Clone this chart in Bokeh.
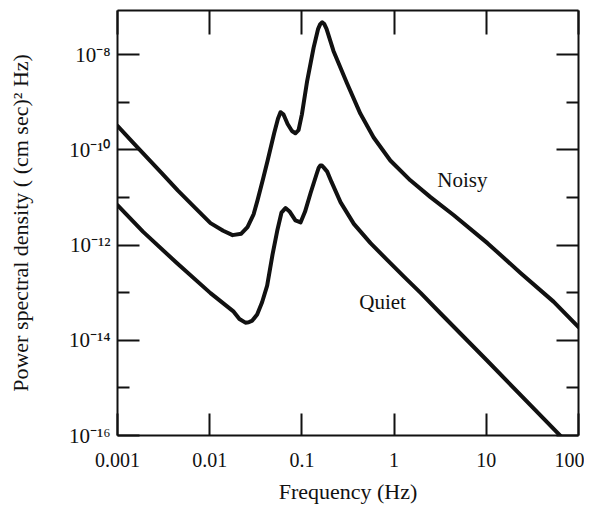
from bokeh.plotting import figure
from bokeh.models import FixedTicker, LogAxis, CustomJSTickFormatter, Range1d, ColumnDataSource
from bokeh.core.properties import value
from bokeh.embed import file_html
from bokeh.resources import INLINE

# ---- data ----
freq_noisy = [0.001, 0.0015, 0.002, 0.003, 0.0045, 0.007, 0.0102, 0.014, 0.0177, 0.022,
              0.0257, 0.03, 0.033, 0.038, 0.0425, 0.05, 0.055, 0.0586, 0.063, 0.07,
              0.078, 0.085, 0.092, 0.1, 0.114, 0.134, 0.15, 0.158, 0.166, 0.175,
              0.185, 0.22, 0.31, 0.43, 0.6, 0.91, 1.5, 2.48, 4.41, 10.3,
              23.5, 53.6, 100]
psd_noisy = [3.2e-10, 1.38e-10, 7.6e-11, 3.3e-11, 1.41e-11, 6.0e-12, 2.9e-12, 2.0e-12, 1.62e-12, 1.74e-12,
             2.4e-12, 4.5e-12, 8.7e-12, 2.5e-11, 6.0e-11, 2.24e-10, 4.5e-10, 6.2e-10, 5.6e-10, 3.5e-10,
             2.5e-10, 2.24e-10, 2.6e-10, 5.6e-10, 2.8e-9, 1.41e-8, 3.5e-8, 4.4e-8, 4.8e-8, 4.4e-8,
             3.5e-8, 1.2e-8, 2.45e-9, 5.8e-10, 1.82e-10, 6.0e-11, 2.3e-11, 1.02e-11, 4.3e-12, 1.1e-12,
             2.6e-13, 6.5e-14, 1.9e-14]

freq_quiet = [0.001, 0.0019, 0.0044, 0.0102, 0.0182, 0.021, 0.0244, 0.0265, 0.029, 0.0327,
              0.037, 0.042, 0.048, 0.054, 0.06, 0.0664, 0.074, 0.085, 0.0967, 0.108,
              0.124, 0.145, 0.152, 0.158, 0.165, 0.172, 0.188, 0.21, 0.263, 0.366,
              0.555, 0.84, 1.27, 1.95, 3.18, 10, 63.8, 100]
psd_quiet = [6.9e-12, 1.9e-12, 4.2e-13, 9.8e-14, 4.0e-14, 2.8e-14, 2.35e-14, 2.4e-14, 2.6e-14, 3.5e-14,
             6.3e-14, 1.41e-13, 6.3e-13, 2.0e-12, 4.8e-12, 6.0e-12, 5.0e-12, 3.3e-12, 3.0e-12, 5.0e-12,
             1.23e-11, 3.2e-11, 4.2e-11, 4.7e-11, 4.7e-11, 4.3e-11, 3.5e-11, 2.1e-11, 7.9e-12, 2.8e-12,
             1.1e-12, 4.9e-13, 2.2e-13, 9.8e-14, 3.7e-14, 3.9e-15, 9.8e-17, 4.0e-17]

x_ticks = [0.001, 0.01, 0.1, 1, 10, 100]
x_tick_labels = ["0.001", "0.01", "0.1", "1", "10", "100"]
y_ticks = [1e-16, 1e-14, 1e-12, 1e-10, 1e-8]
y_tick_labels = ["10\u207b\u00b9\u2076", "10\u207b\u00b9\u2074", "10\u207b\u00b9\u00b2",
                 "10\u207b\u00b9\u2070", "10\u207b\u2078"]
y_minor_ticks = [1e-15, 1e-13, 1e-11, 1e-9]

series_names = ["Noisy", "Quiet"]
label_freq = [5.5, 0.75]
label_psd = [2.3e-11, 6.5e-14]

x_title = "Frequency (Hz)"
y_title = "Power spectral density ( (cm sec)\u00b2 Hz)"

FONT = "Liberation Serif"
INK = "#111111"

p = figure(width=584, height=506, x_axis_type="log", y_axis_type="log",
           x_range=Range1d(0.001, 100), y_range=Range1d(1e-16, 8.5e-8),
           output_backend="svg", toolbar_location=None,
           min_border_left=117, min_border_right=6, min_border_top=10, min_border_bottom=69)
p.grid.visible = False
p.outline_line_color = None
p.background_fill_color = "white"
p.border_fill_color = "white"


def label_formatter(ticks, labels):
    return CustomJSTickFormatter(args=dict(tv=ticks, lab=labels), code="""
        for (let i = 0; i < tv.length; i++) {
            if (Math.abs(Math.log10(tv[i]) - Math.log10(tick)) < 1e-6) return lab[i];
        }
        return "";
    """)


def style(ax, major, minor, major_len, minor_len):
    ax.ticker = FixedTicker(ticks=major, minor_ticks=minor)
    ax.axis_line_width = 2
    ax.axis_line_color = INK
    ax.major_tick_in = major_len
    ax.major_tick_out = 0
    ax.minor_tick_in = minor_len
    ax.minor_tick_out = 0
    ax.major_tick_line_width = 2
    ax.minor_tick_line_width = 2
    ax.major_tick_line_color = INK
    ax.minor_tick_line_color = INK
    ax.major_label_text_font = FONT
    ax.major_label_text_color = INK
    ax.axis_label_text_font = FONT
    ax.axis_label_text_font_style = "normal"
    ax.axis_label_text_color = INK


# bottom axis
xa = p.xaxis[0]
style(xa, x_ticks, [], 22, 0)
xa.formatter = label_formatter(x_ticks, x_tick_labels)
xa.major_label_text_font_size = "20px"
xa.major_label_standoff = 17
xa.axis_label = x_title
xa.axis_label_text_font_size = "22px"
xa.axis_label_standoff = 9

# left axis
ya = p.yaxis[0]
style(ya, y_ticks, y_minor_ticks, 22, 12)
ya.formatter = label_formatter(y_ticks, y_tick_labels)
ya.major_label_text_font_size = "21px"
ya.major_label_standoff = 7
ya.axis_label = y_title
ya.axis_label_text_font_size = "22px"
ya.axis_label_standoff = 33

# top axis (ticks only)
ta = LogAxis()
style(ta, x_ticks, [], 24, 0)
ta.formatter = CustomJSTickFormatter(code="return '';")
ta.major_label_text_font_size = "0px"
ta.major_label_standoff = 0
p.add_layout(ta, "above")

# right axis (ticks only)
ra = LogAxis()
style(ra, y_ticks, y_minor_ticks, 22, 12)
ra.formatter = CustomJSTickFormatter(code="return '';")
ra.major_label_text_font_size = "0px"
ra.major_label_standoff = 0
p.add_layout(ra, "right")

# curves
p.line(freq_noisy, psd_noisy, line_color=INK, line_width=4, line_join="round", line_cap="round")
p.line(freq_quiet, psd_quiet, line_color=INK, line_width=4, line_join="round", line_cap="round")

# curve labels
src = ColumnDataSource(dict(x=label_freq, y=label_psd, t=series_names))
p.text(x="x", y="y", text="t", source=src, text_font=value(FONT), text_font_size="21px",
       text_color=INK, text_align="center", text_baseline="middle")

open("out.html", "w").write(file_html(p, INLINE))
